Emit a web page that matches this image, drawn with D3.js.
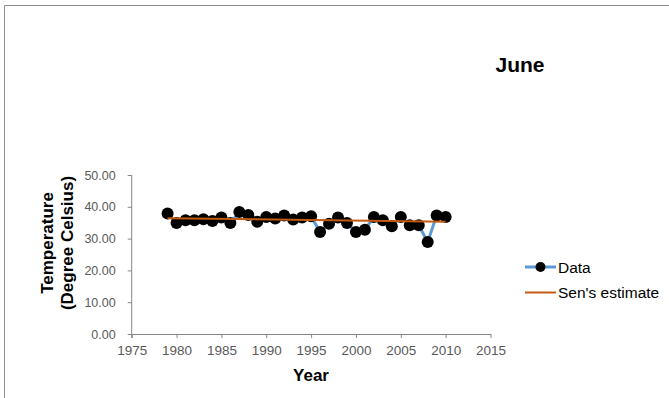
<!DOCTYPE html>
<html>
<head>
<meta charset="utf-8">
<script src="https://cdn.jsdelivr.net/npm/d3@7"></script>
<style>
  html, body { margin: 0; padding: 0; background: #fff; }
  svg { display: block; font-family: "Liberation Sans", Arial, sans-serif; }
</style>
</head>
<body>
<svg id="chart" width="669" height="398"></svg>
<script>
const years = [1979,1980,1981,1982,1983,1984,1985,1986,1987,1988,1989,1990,1991,1992,1993,1994,1995,1996,1997,1998,1999,2000,2001,2002,2003,2004,2005,2006,2007,2008,2009,2010];
const temps = [37.9,34.9,35.8,35.8,36.1,35.5,36.6,34.9,38.4,37.4,35.3,36.8,36.3,37.3,36.0,36.6,37.0,32.1,34.7,36.6,34.9,32.1,32.8,36.8,35.8,33.9,36.8,34.2,34.2,28.9,37.3,36.8];
const senYears = [1979, 2010];
const senValues = [36.4, 35.3];
const xTicks = [1975,1980,1985,1990,1995,2000,2005,2010,2015];
const yTicks = [0,10,20,30,40,50];
const title = "June";
const xTitle = "Year";
const yTitleLines = ["Temperature", "(Degree Celsius)"];
const legendLabels = ["Data", "Sen's estimate"];

const svg = d3.select("#chart");

// outer frame (only top & left visible in reference)
svg.append("path").attr("d", "M4.5,398 L4.5,5.5 L669,5.5")
  .attr("fill", "none").attr("stroke", "#8c8c8c").attr("stroke-width", 1);

const x = d3.scaleLinear().domain([1975, 2015]).range([131.7, 490.5]);
const y = d3.scaleLinear().domain([0, 50]).range([334, 175]);

const axisColor = "#868686";
const textColor = "#595959";

// Y axis
const yAxis = svg.append("g").attr("transform", `translate(${x(1975)},0)`)
  .call(d3.axisLeft(y).tickValues(yTicks).tickFormat(d3.format(".2f")).tickSize(4).tickSizeOuter(0));
yAxis.select(".domain").attr("stroke", axisColor).attr("d", `M0,${y(50)}V${y(0)+4}`);
yAxis.selectAll(".tick line").attr("stroke", axisColor);
yAxis.selectAll(".tick text").attr("fill", textColor).attr("font-size", 12.5)
  .attr("font-family", "'Liberation Sans', Arial, sans-serif").attr("x", -16);

// X axis
const xAxis = svg.append("g").attr("transform", `translate(0,${y(0)})`)
  .call(d3.axisBottom(x).tickValues(xTicks).tickFormat(d3.format("d")).tickSize(4).tickSizeOuter(0));
xAxis.select(".domain").attr("stroke", axisColor);
xAxis.selectAll(".tick text").attr("fill", textColor).attr("font-size", 13.5)
  .attr("font-family", "'Liberation Sans', Arial, sans-serif").attr("y", 11);
xAxis.selectAll(".tick line").attr("stroke", axisColor);

// Data line
const line = d3.line().x((d, i) => x(years[i])).y(d => y(d));
svg.append("path").datum(temps).attr("d", line)
  .attr("fill", "none").attr("stroke", "#5B9BD5").attr("stroke-width", 3).attr("stroke-linejoin", "round");

// Markers
svg.append("g").selectAll("circle").data(temps).join("circle")
  .attr("cx", (d, i) => x(years[i])).attr("cy", d => y(d)).attr("r", 6)
  .attr("fill", "#000");

// Sen's estimate
const senLine = d3.line().x((d, i) => x(senYears[i])).y(d => y(d));
svg.append("path").datum(senValues).attr("d", senLine)
  .attr("fill", "none").attr("stroke", "#C55A11").attr("stroke-width", 2);

// Title
svg.append("text").attr("x", 520).attr("y", 72).attr("text-anchor", "middle")
  .attr("font-size", 21).attr("font-weight", "bold").attr("fill", "#000").text(title);

// X title
svg.append("text").attr("x", 311).attr("y", 381).attr("text-anchor", "middle")
  .attr("font-size", 17).attr("font-weight", "bold").attr("fill", "#000").text(xTitle);

// Y title
const yt = svg.append("text").attr("transform", "translate(0,243) rotate(-90)")
  .attr("text-anchor", "middle").attr("font-size", 17).attr("font-weight", "bold").attr("fill", "#000");
yt.append("tspan").attr("x", 0).attr("y", 53).text(yTitleLines[0]);
yt.append("tspan").attr("x", 0).attr("y", 73).text(yTitleLines[1]);

// Legend
const lg = svg.append("g");
lg.append("line").attr("x1", 525).attr("x2", 556).attr("y1", 267).attr("y2", 267)
  .attr("stroke", "#5B9BD5").attr("stroke-width", 3);
lg.append("circle").attr("cx", 540.5).attr("cy", 267).attr("r", 5).attr("fill", "#000");
lg.append("text").attr("x", 558).attr("y", 272.5).attr("font-size", 15.5).attr("fill", "#000").text(legendLabels[0]);
lg.append("line").attr("x1", 525).attr("x2", 556).attr("y1", 292.5).attr("y2", 292.5)
  .attr("stroke", "#C55A11").attr("stroke-width", 2);
lg.append("text").attr("x", 558).attr("y", 298).attr("font-size", 15.5).attr("fill", "#000").text(legendLabels[1]);
</script>
</body>
</html>
